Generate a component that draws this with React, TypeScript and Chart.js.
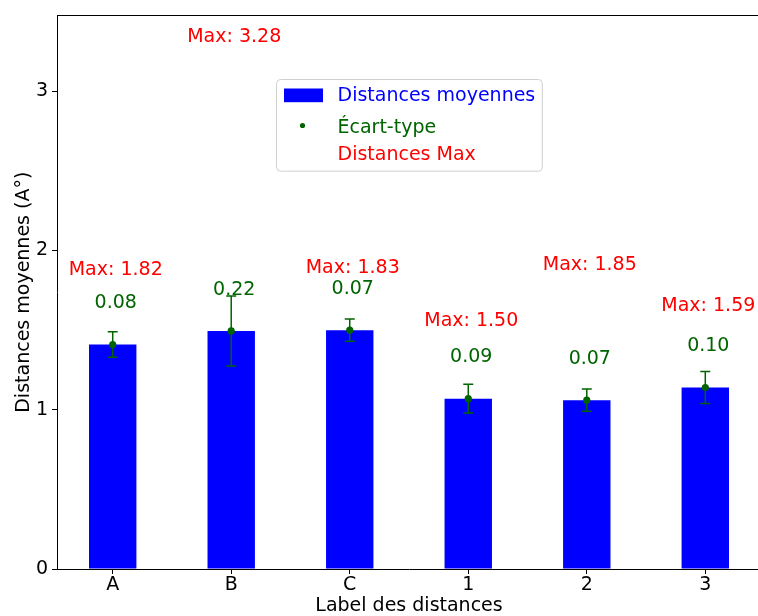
import React, { useEffect, useRef } from 'react';
import { Chart, registerables } from 'chart.js';

Chart.register(...registerables);

// ---- data ----
const categories = ['A', 'B', 'C', '1', '2', '3'];
const meanValues = [1.41, 1.495, 1.5, 1.07, 1.06, 1.14];
const stdValues = [0.08, 0.22, 0.07, 0.09, 0.07, 0.1];
const maxValues = [1.82, 3.28, 1.83, 1.5, 1.85, 1.59];
const yTickValues = [0, 1, 2, 3];
const yAxisMax = 3.4768;
const xAxisMin = -0.47;
const xAxisMax = 5.47;
const stdLabelOffset = 0.2;
const legendLabels = ['Distances moyennes', 'Écart-type', 'Distances Max'];

const FAMILY = "'DejaVu Sans'";
const FONT = `19px ${FAMILY}`;
const BLUE = '#0000ff';
const GREEN = '#006400';
const RED = '#ff0000';

const CANVAS_W = 780;
const TEXT_DX = 3;

const annotatePlugin = {
  id: 'annotate',
  beforeDatasetDraw(chart: any, args: any) {
    if (args.index !== 1) return;
    const { ctx, scales } = chart;
    const x = scales.x;
    const y = scales.y;
    ctx.save();
    ctx.strokeStyle = GREEN;
    ctx.lineWidth = 1.5;
    meanValues.forEach((m, i) => {
      const px = x.getPixelForValue(i);
      const top = y.getPixelForValue(m + stdValues[i]);
      const bot = y.getPixelForValue(m - stdValues[i]);
      ctx.beginPath();
      ctx.moveTo(px, top);
      ctx.lineTo(px, bot);
      ctx.moveTo(px - 5, top);
      ctx.lineTo(px + 5, top);
      ctx.moveTo(px - 5, bot);
      ctx.lineTo(px + 5, bot);
      ctx.stroke();
    });
    ctx.restore();
  },
  afterDatasetsDraw(chart: any) {
    const { ctx, scales, chartArea } = chart;
    const x = scales.x;
    const y = scales.y;
    ctx.save();
    ctx.strokeStyle = '#000';
    ctx.lineWidth = 1;
    ctx.beginPath();
    const ty = Math.round(chartArea.top) + 0.5;
    ctx.moveTo(chartArea.left, ty);
    ctx.lineTo(chartArea.right, ty);
    ctx.stroke();

    ctx.font = FONT;
    ctx.textAlign = 'center';
    ctx.textBaseline = 'bottom';
    categories.forEach((_, i) => {
      const px = x.getPixelForValue(i) + TEXT_DX;
      ctx.fillStyle = RED;
      ctx.fillText(`Max: ${maxValues[i].toFixed(2)}`, px, y.getPixelForValue(maxValues[i]));
      ctx.fillStyle = GREEN;
      ctx.fillText(stdValues[i].toFixed(2), px, y.getPixelForValue(meanValues[i] + stdLabelOffset));
    });

    ctx.textAlign = 'left';
    ctx.textBaseline = 'alphabetic';
    const maxW = Math.max(...legendLabels.map((t) => ctx.measureText(t).width));
    const boxW = 61 + maxW + 7;
    const boxH = 91.7;
    const cx = (chartArea.left + chartArea.right) / 2;
    const bl = Math.round(cx - boxW / 2) + 0.5;
    const bt = Math.round(chartArea.top + 64) + 0.5;
    ctx.beginPath();
    (ctx as any).roundRect(bl, bt, boxW, boxH, 4);
    ctx.fillStyle = 'rgba(255,255,255,0.8)';
    ctx.fill();
    ctx.strokeStyle = '#d0d0d0';
    ctx.lineWidth = 1;
    ctx.stroke();

    ctx.fillStyle = BLUE;
    ctx.fillRect(bl + 7.5, bt + 9, 39, 13.7);
    ctx.fillText(legendLabels[0], bl + 61, bt + 21.7);
    ctx.fillStyle = GREEN;
    ctx.beginPath();
    ctx.arc(bl + 26, bt + 46, 2.6, 0, Math.PI * 2);
    ctx.fill();
    ctx.fillText(legendLabels[1], bl + 61, bt + 53.4);
    ctx.fillStyle = RED;
    ctx.fillText(legendLabels[2], bl + 61, bt + 80);
    ctx.restore();
  },
};

export default function App() {
  const ref = useRef<HTMLCanvasElement>(null);
  useEffect(() => {
    const canvas = ref.current!;
    const chart = new Chart(canvas, {
      type: 'bar',
      data: {
        datasets: [
          {
            type: 'bar',
            label: legendLabels[0],
            data: meanValues.map((v, i) => ({ x: i, y: v })),
            backgroundColor: BLUE,
            borderWidth: 0,
            categoryPercentage: 1,
            barPercentage: 0.4,
            order: 2,
          } as any,
          {
            type: 'scatter',
            label: legendLabels[1],
            data: meanValues.map((v, i) => ({ x: i, y: v })),
            backgroundColor: GREEN,
            borderColor: GREEN,
            borderWidth: 0,
            pointRadius: 3.6,
            order: 1,
          } as any,
        ],
      },
      options: {
        responsive: false,
        animation: false,
        devicePixelRatio: 1,
        layout: { padding: { top: 14, right: CANVAS_W - 761, left: 0, bottom: 0 } },
        plugins: { legend: { display: false }, tooltip: { enabled: false } },
        scales: {
          x: {
            type: 'linear',
            min: xAxisMin,
            max: xAxisMax,
            offset: false,
            afterBuildTicks: (s: any) => {
              s.ticks = categories.map((_, i) => ({ value: i }));
            },
            afterFit: (s: any) => {
              s.height = 47;
            },
            ticks: {
              callback: (v: any) => categories[v] ?? '',
              font: { family: FAMILY, size: 19, lineHeight: 1.2 },
              color: '#000',
              padding: 0,
              autoSkip: false,
              maxRotation: 0,
            },
            grid: { display: true, offset: false, drawOnChartArea: false, drawTicks: true, tickLength: 5, color: '#000' },
            border: { display: true, color: '#000', width: 1 },
            title: {
              display: true,
              text: 'Label des distances',
              font: { family: FAMILY, size: 19, lineHeight: 1 },
              color: '#000',
              padding: { top: 0, bottom: 0 },
            },
          },
          y: {
            type: 'linear',
            min: 0,
            max: yAxisMax,
            afterBuildTicks: (s: any) => {
              s.ticks = yTickValues.map((v) => ({ value: v }));
            },
            afterFit: (s: any) => {
              s.width = 57;
            },
            ticks: {
              callback: (v: any) => String(v),
              font: { family: FAMILY, size: 19 },
              color: '#000',
              padding: 4,
            },
            grid: { display: true, drawOnChartArea: false, drawTicks: true, tickLength: 5, color: '#000' },
            border: { display: true, color: '#000', width: 1 },
            title: {
              display: true,
              text: 'Distances moyennes (A°)',
              font: { family: FAMILY, size: 19, lineHeight: 1 },
              color: '#000',
              padding: { top: 15, bottom: 0 },
            },
          },
        },
      } as any,
      plugins: [annotatePlugin],
    });
    return () => chart.destroy();
  }, []);

  return (
    <div
      style={{
        position: 'fixed',
        left: 0,
        top: 0,
        width: 758,
        height: 616,
        overflow: 'hidden',
        background: '#fff',
      }}
    >
      <div style={{ width: CANVAS_W, height: 616 }}>
        <canvas ref={ref} width={CANVAS_W} height={616} style={{ display: 'block', width: CANVAS_W, height: 616 }} />
      </div>
    </div>
  );
}
